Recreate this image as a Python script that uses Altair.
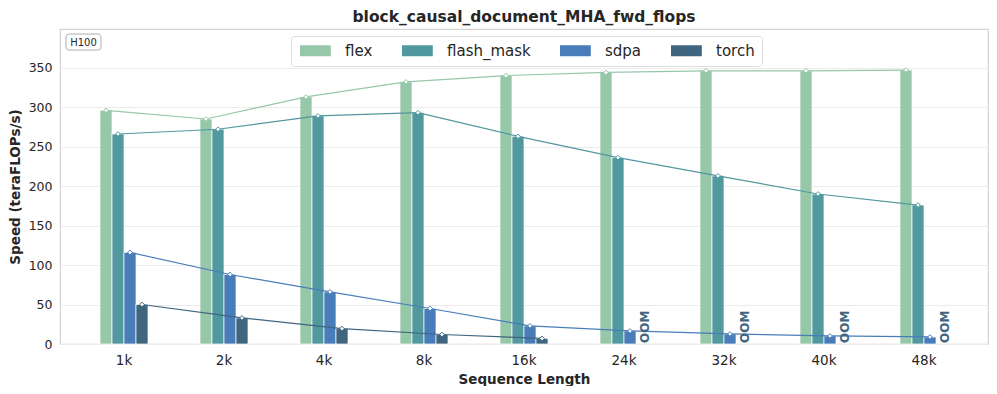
import altair as alt
import pandas as pd

# ---- data ----
seq_labels = ["1k", "2k", "4k", "8k", "16k", "24k", "32k", "40k", "48k"]
methods = ["flex", "flash_mask", "sdpa", "torch"]
flex = [296, 285, 313, 332, 340, 344, 346, 346, 347]
flash_mask = [266, 272, 289, 293, 263, 236, 213, 190, 176]
sdpa = [116, 88, 66, 45, 23, 16.5, 12.7, 10.2, 8.9]
torch = [50, 33, 19.5, 12, 7, None, None, None, None]
colors = ["#96c7a8", "#52989f", "#487db9", "#40657f"]
gpu_label = ["H100"]
oom_text = "OOM"

series = {"flex": flex, "flash_mask": flash_mask, "sdpa": sdpa, "torch": torch}
rows, oom_rows = [], []
for m in methods:
    for s, v in zip(seq_labels, series[m]):
        if v is None:
            oom_rows.append({"seq": s, "method": m, "value": 0, "label": oom_text})
        else:
            rows.append({"seq": s, "method": m, "value": v})
df = pd.DataFrame(rows)
df_oom = pd.DataFrame(oom_rows)
df_gpu = pd.DataFrame({"t": gpu_label})

FONT = "DejaVu Sans"
TXT = "#262626"

x_enc = alt.X("seq:N", sort=seq_labels, title="Sequence Length",
              scale=alt.Scale(domain=seq_labels, paddingInner=0.52, paddingOuter=0.40),
              axis=alt.Axis(labelAngle=0, labelFontSize=13.5, labelPadding=9,
                            titleFontSize=13.5, titleFontWeight="bold", titlePadding=6,
                            ticks=False, domain=False, grid=False))
xo_enc = alt.XOffset("method:N", sort=methods, scale=alt.Scale(domain=methods, paddingInner=0, paddingOuter=0))
y_enc = alt.Y("value:Q", title="Speed (teraFLOPs/s)",
              scale=alt.Scale(domain=[0, 399], nice=False, zero=True),
              axis=alt.Axis(values=[0, 50, 100, 150, 200, 250, 300, 350], labelFontSize=12.5,
                            labelPadding=8, ticks=False, domain=False,
                            titleFontSize=13.5, titleFontWeight="bold", titlePadding=6,
                            gridColor="#ebebeb", gridWidth=1))
col_scale = alt.Scale(domain=methods, range=colors)

bars = alt.Chart(df).mark_bar(stroke="white", strokeWidth=0.7).encode(
    x=x_enc, xOffset=xo_enc, y=y_enc,
    color=alt.Color("method:N", sort=methods, scale=col_scale,
                    legend=alt.Legend(title=None, orient="none", legendX=231, legendY=7,
                                      direction="horizontal", labelFontSize=15,
                                      symbolType="M-1,-1L4.6,-1L4.6,1L-1,1Z",
                                      symbolSize=121, symbolStrokeWidth=0,
                                      labelOffset=32, columnPadding=27, padding=7,
                                      fillColor="white", strokeColor="#dddddd",
                                      cornerRadius=3, labelColor=TXT)),
)

lines = alt.Chart(df).mark_line(strokeWidth=1.2).encode(
    x=x_enc, xOffset=xo_enc, y=y_enc,
    color=alt.Color("method:N", sort=methods, scale=col_scale, legend=None),
    detail="method:N",
)

points = alt.Chart(df).mark_point(shape="diamond", size=22, fill="white", filled=False,
                                  strokeWidth=1, opacity=1).encode(
    x=x_enc, xOffset=xo_enc, y=y_enc,
    stroke=alt.Stroke("method:N", sort=methods, scale=col_scale, legend=None),
)

oom = alt.Chart(df_oom).mark_text(angle=270, align="left", baseline="middle",
                                  fontWeight="bold", fontSize=12, color="#40657f",
                                  dx=1, dy=3).encode(
    x=x_enc, xOffset=xo_enc, y=y_enc, text="label:N",
)

gpu_box = alt.Chart(df_gpu).mark_rect(fill="white", stroke="#999999", strokeWidth=0.8,
                                      cornerRadius=3).encode(
    x=alt.value(6), x2=alt.value(41), y=alt.value(5), y2=alt.value(21))
gpu_text = alt.Chart(df_gpu).mark_text(fontSize=10, color=TXT, align="center",
                                       baseline="middle").encode(
    x=alt.value(23.5), y=alt.value(13.5), text="t:N")

chart = alt.layer(bars, lines, points, oom, gpu_box, gpu_text).properties(
    width=928, height=315,
    title=alt.TitleParams("block_causal_document_MHA_fwd_flops", fontSize=15.5,
                          fontWeight="bold", color=TXT, anchor="middle", offset=4),
    autosize=alt.AutoSizeParams(type="none"),
    padding={"left": 52, "top": 21, "right": 1, "bottom": 42},
).configure(font=FONT).configure_view(stroke="#d4d4d4", strokeWidth=1.2).configure_axis(
    labelColor=TXT, titleColor=TXT, labelFont=FONT, titleFont=FONT)

chart.save("out.html", embed_options={"renderer": "svg", "actions": False})
